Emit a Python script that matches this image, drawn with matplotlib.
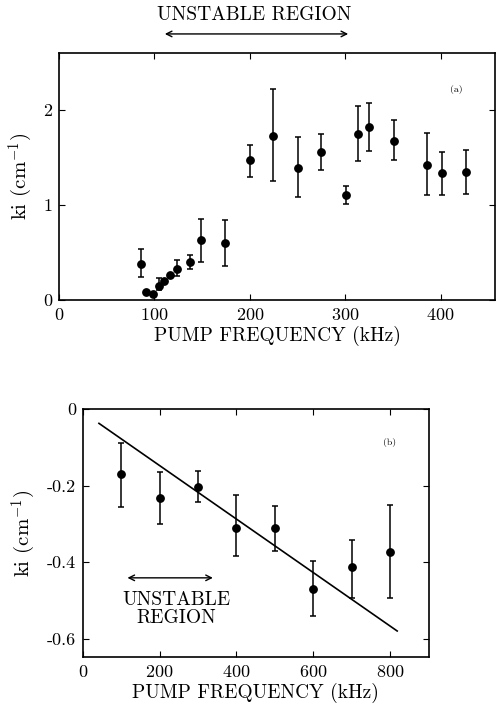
import numpy as np
import matplotlib
matplotlib.use("Agg")
import matplotlib.pyplot as plt

plt.rcParams['font.family'] = ['cmr10', 'DejaVu Serif']
plt.rcParams['mathtext.fontset'] = 'cm'
plt.rcParams['axes.unicode_minus'] = False
plt.rcParams['axes.formatter.use_mathtext'] = True

# panel (a): growth rate vs pump frequency
freq_a = [86, 91, 99, 105, 110, 116.6, 124, 137, 149, 174.5, 200.7, 224.8,
          251, 275, 300.5, 313, 325, 351, 386, 401, 427]
ki_a = [0.38, 0.08, 0.06, 0.15, 0.20, 0.26, 0.33, 0.40, 0.63, 0.60, 1.47, 1.73,
        1.39, 1.56, 1.11, 1.75, 1.82, 1.67, 1.42, 1.34, 1.35]
hi_a = [0.54, 0.08, 0.06, 0.23, 0.20, 0.26, 0.42, 0.47, 0.85, 0.84, 1.63, 2.22,
        1.72, 1.75, 1.20, 2.04, 2.07, 1.89, 1.76, 1.56, 1.58]
lo_a = [0.24, 0.08, 0.06, 0.11, 0.20, 0.26, 0.25, 0.33, 0.40, 0.36, 1.30, 1.25,
        1.08, 1.37, 1.01, 1.46, 1.57, 1.47, 1.11, 1.11, 1.12]

# panel (b)
freq_b = [100, 200, 300, 400, 500, 600, 700, 800]
ki_b = [-0.169, -0.231, -0.203, -0.310, -0.311, -0.469, -0.412, -0.374]
hi_b = [-0.089, -0.165, -0.162, -0.224, -0.254, -0.396, -0.341, -0.251]
lo_b = [-0.257, -0.299, -0.243, -0.383, -0.370, -0.542, -0.494, -0.495]
fit_x = [42, 819]
fit_y = [-0.037, -0.580]

fig = plt.figure(figsize=(4.96, 7.06), dpi=100)
ax1 = fig.add_axes([0.119, 0.575, 0.879, 0.350])
ax2 = fig.add_axes([0.167, 0.0694, 0.698, 0.351])


def draw(ax, x, y, hi, lo):
    y = np.array(y)
    err = [y - np.array(lo), np.array(hi) - y]
    ax.errorbar(x, y, yerr=err, fmt='o', color='black', ms=5.3,
                elinewidth=1.1, capsize=2, capthick=1.1)


draw(ax1, freq_a, ki_a, hi_a, lo_a)
ax1.set_xlim(0, 457)
ax1.set_ylim(0, 2.6)
ax1.set_xticks([0, 100, 200, 300, 400])
ax1.set_yticks([0, 1, 2])
ax1.set_yticklabels(['0', '1', '2'])
ax1.text(416, 2.22, '(a)', fontsize=7, ha='center', va='center')
ax1.annotate('', xy=(108, 2.8), xytext=(306, 2.8), annotation_clip=False,
             arrowprops=dict(arrowstyle='<->', color='black', lw=1.0))
ax1.text(205, 3.0, 'UNSTABLE REGION', fontsize=14, ha='center', va='center')

draw(ax2, freq_b, ki_b, hi_b, lo_b)
ax2.plot(fit_x, fit_y, color='black', lw=1.2)
ax2.set_xlim(0, 902)
ax2.set_ylim(-0.648, 0)
ax2.set_xticks([0, 200, 400, 600, 800])
ax2.set_yticks([0, -0.2, -0.4, -0.6])
ax2.set_yticklabels(['0', '-0.2', '-0.4', '-0.6'])
ax2.text(798, -0.086, '(b)', fontsize=7, ha='center', va='center')
ax2.annotate('', xy=(109, -0.441), xytext=(346, -0.441),
             arrowprops=dict(arrowstyle='<->', color='black', lw=1.0))
ax2.text(243, -0.475, 'UNSTABLE\nREGION', fontsize=14, ha='center', va='top',
         linespacing=1.05)

for ax in (ax1, ax2):
    ax.set_xlabel('PUMP FREQUENCY (kHz)', fontsize=14, labelpad=2)
    ax.set_ylabel('ki (cm$^{-1}$)', fontsize=15, labelpad=6)
    ax.tick_params(direction='in', top=True, right=True, labelsize=13,
                   length=4, pad=5)
    for s in ax.spines.values():
        s.set_linewidth(1.2)

fig.savefig('out.png', dpi=100)
